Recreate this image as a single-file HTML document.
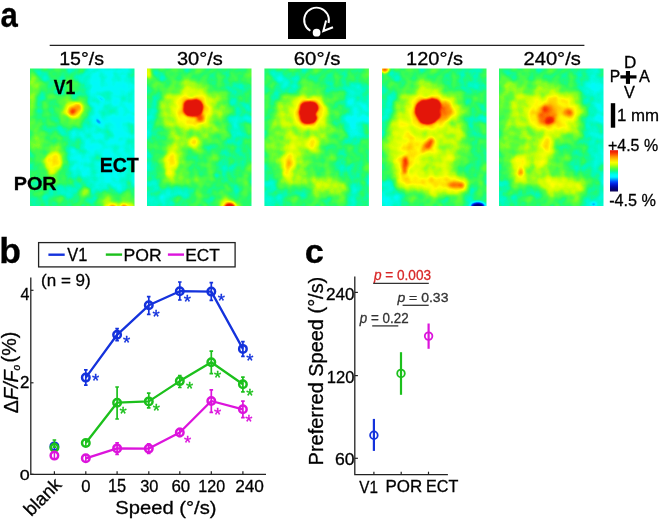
<!DOCTYPE html>
<html><head><meta charset="utf-8"><style>
html,body{margin:0;padding:0;background:#fff;}
svg{display:block;will-change:transform;}
text{font-family:"Liberation Sans",sans-serif;}
.bl{font-weight:bold;}
.st{font-size:15px;}
</style></head><body>
<svg width="660" height="521" viewBox="0 0 660 521">
<defs>
<filter id="jet" x="-20%" y="-20%" width="140%" height="140%" color-interpolation-filters="sRGB">
  <feGaussianBlur stdDeviation="0.8" result="bl"/>
  <feComponentTransfer in="bl" result="f"><feFuncA type="table" tableValues="1 1"/></feComponentTransfer>
  <feTurbulence type="fractalNoise" baseFrequency="0.085" numOctaves="2" seed="3" result="nz"/>
  <feColorMatrix in="nz" type="matrix" values="1 0 0 0 0 1 0 0 0 0 1 0 0 0 0 0 0 0 0 1" result="gn"/>
  <feComposite in="f" in2="gn" operator="arithmetic" k1="0" k2="1" k3="0.16" k4="-0.08" result="v"/>
  <feComponentTransfer in="v">
    <feFuncR type="table" tableValues="0.078 0.069 0.060 0.051 0.042 0.033 0.024 0.015 0.006 0.000 0.000 0.000 0.000 0.000 0.000 0.000 0.000 0.000 0.000 0.000 0.000 0.000 0.000 0.000 0.000 0.000 0.000 0.000 0.000 0.000 0.000 0.000 0.000 0.000 0.000 0.000 0.000 0.000 0.000 0.000 0.000 0.000 0.000 0.000 0.000 0.000 0.000 0.000 0.000 0.000 0.000 0.000 0.000 0.000 0.000 0.000 0.031 0.063 0.094 0.125 0.157 0.196 0.235 0.275 0.314 0.353 0.392 0.448 0.504 0.560 0.616 0.672 0.728 0.784 0.815 0.846 0.877 0.908 0.938 0.969 1.000 1.000 1.000 1.000 1.000 1.000 1.000 1.000 1.000 1.000 1.000 1.000 1.000 1.000 1.000 1.000 1.000 0.999 0.996 0.994 0.991 0.989 0.986 0.984 0.981 0.972 0.961 0.950 0.939 0.928 0.916 0.905 0.894 0.894 0.894 0.894 0.894 0.894 0.894 0.894 0.894 0.894 0.894 0.894 0.894 0.894 0.894 0.894 0.894"/>
    <feFuncG type="table" tableValues="0.039 0.035 0.030 0.026 0.021 0.016 0.012 0.007 0.003 0.003 0.010 0.017 0.024 0.031 0.038 0.045 0.052 0.059 0.066 0.074 0.084 0.102 0.120 0.139 0.157 0.175 0.193 0.211 0.230 0.270 0.320 0.370 0.420 0.470 0.520 0.570 0.620 0.670 0.718 0.766 0.814 0.862 0.909 0.957 0.965 0.969 0.974 0.978 0.983 0.988 0.987 0.986 0.984 0.983 0.982 0.980 0.982 0.984 0.985 0.987 0.988 0.990 0.992 0.994 0.996 0.998 1.000 1.000 1.000 1.000 1.000 1.000 1.000 1.000 1.000 1.000 1.000 1.000 1.000 1.000 1.000 0.972 0.944 0.916 0.888 0.860 0.832 0.805 0.776 0.745 0.714 0.682 0.651 0.620 0.589 0.558 0.527 0.492 0.451 0.410 0.370 0.329 0.289 0.248 0.207 0.186 0.172 0.157 0.143 0.129 0.115 0.100 0.086 0.086 0.086 0.086 0.086 0.086 0.086 0.086 0.086 0.086 0.086 0.086 0.086 0.086 0.086 0.086 0.086"/>
    <feFuncB type="table" tableValues="0.353 0.369 0.385 0.401 0.417 0.433 0.449 0.464 0.480 0.501 0.529 0.558 0.586 0.614 0.643 0.671 0.699 0.728 0.756 0.784 0.811 0.834 0.856 0.879 0.902 0.925 0.947 0.970 0.993 1.000 1.000 1.000 1.000 1.000 1.000 1.000 1.000 1.000 1.000 1.000 1.000 1.000 1.000 1.000 0.994 0.988 0.981 0.975 0.969 0.961 0.925 0.889 0.853 0.817 0.781 0.745 0.675 0.604 0.533 0.463 0.392 0.359 0.327 0.294 0.261 0.229 0.196 0.168 0.140 0.112 0.084 0.056 0.028 0.000 0.000 0.000 0.000 0.000 0.000 0.000 0.000 0.000 0.000 0.000 0.000 0.000 0.000 0.000 0.000 0.000 0.000 0.000 0.000 0.000 0.000 0.000 0.000 0.000 0.000 0.000 0.000 0.000 0.000 0.000 0.000 0.004 0.009 0.014 0.019 0.024 0.029 0.034 0.039 0.039 0.039 0.039 0.039 0.039 0.039 0.039 0.039 0.039 0.039 0.039 0.039 0.039 0.039 0.039 0.039"/>
  </feComponentTransfer>
</filter>
<filter id="b5" x="-100%" y="-100%" width="300%" height="300%" color-interpolation-filters="sRGB"><feGaussianBlur stdDeviation="7"/></filter>
<filter id="b4" x="-100%" y="-100%" width="300%" height="300%" color-interpolation-filters="sRGB"><feGaussianBlur stdDeviation="4.5"/></filter>
<filter id="b3" x="-100%" y="-100%" width="300%" height="300%" color-interpolation-filters="sRGB"><feGaussianBlur stdDeviation="3"/></filter>
<filter id="b2" x="-100%" y="-100%" width="300%" height="300%" color-interpolation-filters="sRGB"><feGaussianBlur stdDeviation="1.8"/></filter>
<filter id="b1" x="-100%" y="-100%" width="300%" height="300%" color-interpolation-filters="sRGB"><feGaussianBlur stdDeviation="0.8"/></filter>
<linearGradient id="cbar" x1="0" y1="1" x2="0" y2="0">

<stop offset="0.000" stop-color="rgb(20,10,90)"/>
<stop offset="0.050" stop-color="rgb(5,2,115)"/>
<stop offset="0.100" stop-color="rgb(0,6,151)"/>
<stop offset="0.150" stop-color="rgb(0,17,196)"/>
<stop offset="0.200" stop-color="rgb(0,42,233)"/>
<stop offset="0.250" stop-color="rgb(0,91,255)"/>
<stop offset="0.300" stop-color="rgb(0,170,255)"/>
<stop offset="0.350" stop-color="rgb(0,245,255)"/>
<stop offset="0.400" stop-color="rgb(0,252,245)"/>
<stop offset="0.450" stop-color="rgb(0,250,199)"/>
<stop offset="0.500" stop-color="rgb(31,251,118)"/>
<stop offset="0.550" stop-color="rgb(80,254,66)"/>
<stop offset="0.600" stop-color="rgb(142,255,28)"/>
<stop offset="0.650" stop-color="rgb(207,255,0)"/>
<stop offset="0.700" stop-color="rgb(247,255,0)"/>
<stop offset="0.750" stop-color="rgb(255,223,0)"/>
<stop offset="0.800" stop-color="rgb(255,182,0)"/>
<stop offset="0.850" stop-color="rgb(255,138,0)"/>
<stop offset="0.900" stop-color="rgb(252,84,0)"/>
<stop offset="0.950" stop-color="rgb(243,42,2)"/>
<stop offset="1.000" stop-color="rgb(228,22,10)"/>
</linearGradient></defs>
<text transform="translate(0.57,26.96) scale(0.9060,1)" font-size="34.36" font-weight="bold" fill="#000" stroke="#000" stroke-width="0.3">a</text>
<rect x="288" y="2" width="58" height="37" fill="#000"/>
<path d="M310.4 30.8 A12.4 12.4 0 1 1 328.6 23.0" fill="none" stroke="#fff" stroke-width="1.9"/>
<path d="M326.1 20.6 L323.3 31 L333 27.2" fill="none" stroke="#fff" stroke-width="2" stroke-linejoin="miter"/>
<circle cx="316.6" cy="32.7" r="3.9" fill="#fff"/>
<line x1="49.7" y1="45.3" x2="584.4" y2="45.3" stroke="#222" stroke-width="1.3"/>
<text transform="translate(59.23,64.57) scale(1.0856,1)" font-size="18.04" fill="#000" stroke="#000" stroke-width="0.3">15°/s</text>
<text transform="translate(176.90,64.72) scale(1.1153,1)" font-size="17.97" fill="#000" stroke="#000" stroke-width="0.3">30°/s</text>
<text transform="translate(293.78,64.72) scale(1.1162,1)" font-size="18.24" fill="#000" stroke="#000" stroke-width="0.3">60°/s</text>
<text transform="translate(406.10,64.72) scale(1.0963,1)" font-size="18.24" fill="#000" stroke="#000" stroke-width="0.3">120°/s</text>
<text transform="translate(523.49,64.81) scale(1.0802,1)" font-size="18.65" fill="#000" stroke="#000" stroke-width="0.3">240°/s</text>
<clipPath id="hc0"><rect x="30.0" y="68.6" width="104.5" height="137.3"/></clipPath>
<g clip-path="url(#hc0)"><g filter="url(#jet)" transform="translate(30.0,68.6)">
<rect x="-12" y="-12" width="128.5" height="161.3" fill="rgb(117,117,117)"/>
<g filter="url(#b5)">
<polygon points="52,-5 110,-5 110,118 80,122 45,118 38,92 48,72 60,58 56,25" fill="rgb(100,100,100)"/>
</g>
<g filter="url(#b4)">
<ellipse cx="12" cy="70" rx="10" ry="9" fill="rgb(130,130,130)"/>
<ellipse cx="43" cy="42" rx="14" ry="14" fill="rgb(135,135,135)"/>
<ellipse cx="23" cy="94" rx="13" ry="16" fill="rgb(135,135,135)"/>
<ellipse cx="88" cy="133" rx="22" ry="8" fill="rgb(133,133,133)"/>
</g>
<g filter="url(#b3)">
<ellipse cx="2" cy="40" rx="4" ry="30" fill="rgb(135,135,135)"/>
<ellipse cx="2" cy="15" rx="3" ry="12" fill="rgb(140,140,140)"/>
</g>
<g filter="url(#b2)">
<ellipse cx="43.5" cy="41.5" rx="8.5" ry="8.5" fill="rgb(164,164,164)"/>
<ellipse cx="23.5" cy="94" rx="8" ry="11" fill="rgb(164,164,164)"/>
<ellipse cx="56" cy="123" rx="4" ry="4" fill="rgb(143,143,143)"/>
<ellipse cx="90" cy="137.5" rx="16" ry="3.5" fill="rgb(158,158,158)"/>
</g>
<g filter="url(#b1)">
<ellipse cx="42.5" cy="42.5" rx="4.5" ry="4.5" fill="rgb(189,189,189)"/>
<ellipse cx="47.5" cy="38.5" rx="3" ry="3" fill="rgb(181,181,181)"/>
<ellipse cx="42" cy="43" rx="2.2" ry="2.2" fill="rgb(212,212,212)"/>
<ellipse cx="23.5" cy="95" rx="3" ry="4" fill="rgb(167,167,167)"/>
<ellipse cx="83" cy="138.3" rx="3" ry="2" fill="rgb(217,217,217)"/>
<ellipse cx="94" cy="138.3" rx="3" ry="2" fill="rgb(217,217,217)"/>
</g>
<g>
<ellipse cx="71" cy="30" rx="3.5" ry="1.3" fill="rgb(64,64,64)" transform="rotate(35 71 30)"/>
<ellipse cx="68" cy="52.5" rx="3.2" ry="1.2" fill="rgb(69,69,69)" transform="rotate(50 68 52.5)"/>
</g>
</g></g>
<clipPath id="hc1"><rect x="147.0" y="68.6" width="104.5" height="137.3"/></clipPath>
<g clip-path="url(#hc1)"><g filter="url(#jet)" transform="translate(147.0,68.6)">
<rect x="-12" y="-12" width="128.5" height="161.3" fill="rgb(120,120,120)"/>
<g filter="url(#b5)">
<ellipse cx="3" cy="75" rx="6" ry="65" fill="rgb(102,102,102)"/>
<ellipse cx="15" cy="128" rx="20" ry="14" fill="rgb(107,107,107)"/>
<ellipse cx="92" cy="60" rx="12" ry="45" fill="rgb(112,112,112)"/>
<ellipse cx="44" cy="44" rx="32" ry="30" fill="rgb(143,143,143)"/>
<ellipse cx="25" cy="95" rx="13" ry="22" fill="rgb(143,143,143)"/>
</g>
<g filter="url(#b4)">
<ellipse cx="46" cy="73" rx="8" ry="8" fill="rgb(145,145,145)"/>
</g>
<g filter="url(#b3)">
<ellipse cx="46" cy="41" rx="18" ry="17" fill="rgb(166,166,166)"/>
<ellipse cx="83" cy="139" rx="9.5" ry="7.5" fill="rgb(168,168,168)"/>
</g>
<g filter="url(#b2)">
<ellipse cx="46" cy="73" rx="4" ry="4" fill="rgb(164,164,164)"/>
<ellipse cx="24" cy="95" rx="6" ry="13" fill="rgb(164,164,164)"/>
<ellipse cx="1" cy="4" rx="3" ry="6" fill="rgb(158,158,158)"/>
</g>
<g filter="url(#b1)">
<polygon points="37,34 41,31 49,30.5 54,33 56,38 55,44 52,47.5 45,48 39,47 36,42" fill="rgb(242,242,242)"/>
<ellipse cx="53.5" cy="50" rx="4" ry="4" fill="rgb(204,204,204)"/>
<ellipse cx="83" cy="139" rx="5.5" ry="4.5" fill="rgb(242,242,242)"/>
<ellipse cx="70" cy="107" rx="2" ry="2" fill="rgb(102,102,102)"/>
</g>
</g></g>
<clipPath id="hc2"><rect x="264.4" y="68.6" width="104.5" height="137.3"/></clipPath>
<g clip-path="url(#hc2)"><g filter="url(#jet)" transform="translate(264.4,68.6)">
<rect x="-12" y="-12" width="128.5" height="161.3" fill="rgb(119,119,119)"/>
<g filter="url(#b5)">
<ellipse cx="20" cy="17" rx="18" ry="9" fill="rgb(102,102,102)"/>
<ellipse cx="92" cy="45" rx="14" ry="28" fill="rgb(102,102,102)"/>
<ellipse cx="6" cy="118" rx="10" ry="22" fill="rgb(105,105,105)"/>
<ellipse cx="95" cy="115" rx="10" ry="15" fill="rgb(107,107,107)"/>
<ellipse cx="38" cy="55" rx="30" ry="32" fill="rgb(143,143,143)"/>
<ellipse cx="27" cy="92" rx="18" ry="28" fill="rgb(143,143,143)"/>
<ellipse cx="65" cy="118" rx="22" ry="9" fill="rgb(135,135,135)"/>
</g>
<g filter="url(#b3)">
<ellipse cx="45" cy="44" rx="16" ry="16" fill="rgb(167,167,167)"/>
<ellipse cx="47" cy="74" rx="5.5" ry="8" fill="rgb(162,162,162)" transform="rotate(20 47 74)"/>
<ellipse cx="65" cy="118" rx="17" ry="5.5" fill="rgb(148,148,148)"/>
</g>
<g filter="url(#b2)">
<ellipse cx="24.3" cy="96" rx="6.5" ry="13" fill="rgb(164,164,164)"/>
</g>
<g filter="url(#b1)">
<ellipse cx="24.3" cy="97" rx="2.5" ry="6" fill="rgb(184,184,184)"/>
<polygon points="36,36 40,33 47,32.5 52,35 54,40 51,45 53,50 50,54 43,55.5 37,54 35,48 35,42" fill="rgb(242,242,242)"/>
</g>
</g></g>
<clipPath id="hc3"><rect x="382.0" y="68.6" width="104.5" height="137.3"/></clipPath>
<g clip-path="url(#hc3)"><g filter="url(#jet)" transform="translate(382.0,68.6)">
<rect x="-12" y="-12" width="128.5" height="161.3" fill="rgb(120,120,120)"/>
<g filter="url(#b5)">
<ellipse cx="4" cy="40" rx="7" ry="35" fill="rgb(102,102,102)"/>
<ellipse cx="6" cy="128" rx="12" ry="16" fill="rgb(99,99,99)"/>
<ellipse cx="95" cy="8" rx="15" ry="12" fill="rgb(110,110,110)"/>
<ellipse cx="97" cy="80" rx="10" ry="40" fill="rgb(115,115,115)"/>
<ellipse cx="45" cy="70" rx="38" ry="55" fill="rgb(144,144,144)"/>
</g>
<g filter="url(#b4)">
<ellipse cx="25" cy="88" rx="13" ry="35" fill="rgb(162,162,162)"/>
<ellipse cx="20" cy="62" rx="10" ry="12" fill="rgb(158,158,158)"/>
<ellipse cx="58" cy="116" rx="28" ry="8" fill="rgb(161,161,161)"/>
</g>
<g filter="url(#b3)">
<ellipse cx="47" cy="44" rx="20" ry="19" fill="rgb(168,168,168)"/>
<ellipse cx="64" cy="41" rx="10" ry="10" fill="rgb(168,168,168)"/>
<ellipse cx="44" cy="77" rx="9" ry="14" fill="rgb(164,164,164)" transform="rotate(40 44 77)"/>
<ellipse cx="24" cy="96" rx="7" ry="14" fill="rgb(166,166,166)"/>
<ellipse cx="72" cy="116" rx="14" ry="7" fill="rgb(166,166,166)"/>
</g>
<g filter="url(#b2)">
<ellipse cx="60" cy="43" rx="10" ry="10" fill="rgb(189,189,189)"/>
</g>
<g filter="url(#b1)">
<polygon points="35,35 41,31 51,30 57,32 59,38 58,48 53,54 45,56 38,54 34,47 33,40" fill="rgb(242,242,242)"/>
<ellipse cx="63" cy="42" rx="6" ry="8" fill="rgb(194,194,194)"/>
<ellipse cx="45.5" cy="77" rx="3.5" ry="9" fill="rgb(196,196,196)" transform="rotate(40 45.5 77)"/>
<ellipse cx="23" cy="96.4" rx="3.5" ry="9" fill="rgb(207,207,207)"/>
<ellipse cx="74" cy="116.4" rx="9" ry="3.5" fill="rgb(196,196,196)"/>
<ellipse cx="96" cy="137.5" rx="7" ry="3.5" fill="rgb(10,10,10)"/>
<ellipse cx="3" cy="1" rx="4" ry="3" fill="rgb(204,204,204)"/>
</g>
</g></g>
<clipPath id="hc4"><rect x="499.0" y="68.6" width="104.5" height="137.3"/></clipPath>
<g clip-path="url(#hc4)"><g filter="url(#jet)" transform="translate(499.0,68.6)">
<rect x="-12" y="-12" width="128.5" height="161.3" fill="rgb(119,119,119)"/>
<g filter="url(#b5)">
<ellipse cx="3" cy="118" rx="6" ry="18" fill="rgb(102,102,102)"/>
<ellipse cx="18" cy="45" rx="16" ry="35" fill="rgb(138,138,138)"/>
<ellipse cx="98" cy="18" rx="12" ry="22" fill="rgb(99,99,99)"/>
<ellipse cx="101" cy="80" rx="8" ry="70" fill="rgb(98,98,98)"/>
<ellipse cx="52" cy="45" rx="32" ry="28" fill="rgb(144,144,144)"/>
<ellipse cx="44" cy="90" rx="10" ry="30" fill="rgb(140,140,140)"/>
<ellipse cx="22" cy="100" rx="15" ry="20" fill="rgb(140,140,140)"/>
<ellipse cx="68" cy="118" rx="28" ry="10" fill="rgb(140,140,140)"/>
</g>
<g filter="url(#b3)">
<ellipse cx="53" cy="45" rx="24" ry="18" fill="rgb(167,167,167)"/>
<ellipse cx="45" cy="82" rx="6" ry="20" fill="rgb(163,163,163)" transform="rotate(15 45 82)"/>
<ellipse cx="47" cy="70" rx="5" ry="8" fill="rgb(166,166,166)" transform="rotate(20 47 70)"/>
<ellipse cx="21" cy="98" rx="7" ry="13" fill="rgb(164,164,164)"/>
<ellipse cx="64" cy="117" rx="24" ry="5.5" fill="rgb(154,154,154)"/>
</g>
<g filter="url(#b2)">
<ellipse cx="48" cy="47" rx="11" ry="10" fill="rgb(184,184,184)"/>
</g>
<g filter="url(#b1)">
<ellipse cx="48" cy="49" rx="8" ry="6.5" fill="rgb(195,195,195)"/>
<ellipse cx="51" cy="52" rx="5" ry="3.5" fill="rgb(219,219,219)"/>
<ellipse cx="46" cy="40" rx="3" ry="3" fill="rgb(201,201,201)"/>
<ellipse cx="41.5" cy="48" rx="3" ry="3" fill="rgb(201,201,201)"/>
<ellipse cx="68.7" cy="44" rx="4.5" ry="4.5" fill="rgb(196,196,196)"/>
<ellipse cx="22" cy="103" rx="2.5" ry="3.5" fill="rgb(191,191,191)"/>
<ellipse cx="94.5" cy="135.6" rx="2" ry="1.5" fill="rgb(38,38,38)"/>
</g>
</g></g>
<text transform="translate(53.72,94.40) scale(0.8595,1)" font-size="20.43" font-weight="bold" fill="#000" stroke="#000" stroke-width="0.3">V1</text>
<text transform="translate(13.77,189.61) scale(1.0482,1)" font-size="18.87" font-weight="bold" fill="#000" stroke="#000" stroke-width="0.3">POR</text>
<text transform="translate(99.63,171.71) scale(1.0149,1)" font-size="19.30" font-weight="bold" fill="#000" stroke="#000" stroke-width="0.3">ECT</text>
<text transform="translate(623.93,68.40) scale(1.0546,1)" font-size="16.23" fill="#000" stroke="#000" stroke-width="0.3">D</text>
<text transform="translate(624.04,97.70) scale(0.9700,1)" font-size="16.81" fill="#000" stroke="#000" stroke-width="0.3">V</text>
<text transform="translate(609.65,81.90) scale(0.9396,1)" font-size="16.67" fill="#000" stroke="#000" stroke-width="0.3">P</text>
<text transform="translate(639.10,81.90) scale(0.9818,1)" font-size="16.67" fill="#000" stroke="#000" stroke-width="0.3">A</text>
<rect x="620.4" y="75.3" width="16.1" height="3.2" fill="#000"/>
<rect x="625.9" y="71" width="4.1" height="12.9" fill="#000"/>
<rect x="610.8" y="103.2" width="4.4" height="24.5" fill="#000"/>
<text transform="translate(616.95,120.80) scale(1.0023,1)" font-size="16.81" fill="#000" stroke="#000" stroke-width="0.3">1 mm</text>
<text transform="translate(607.95,150.83) scale(0.9571,1)" font-size="16.71" fill="#000" stroke="#000" stroke-width="0.3">+4.5 %</text>
<text transform="translate(609.15,206.08) scale(0.9506,1)" font-size="17.07" fill="#000" stroke="#000" stroke-width="0.3">-4.5 %</text>
<rect x="610" y="150.2" width="8" height="41.3" fill="url(#cbar)"/>
<text transform="translate(-0.79,263.20) scale(1.0395,1)" font-size="34.25" font-weight="bold" fill="#000" stroke="#000" stroke-width="0.3">b</text>
<rect x="38.6" y="242.6" width="196.5" height="24.3" fill="none" stroke="#222" stroke-width="1.3"/>
<line x1="48.4" y1="254.7" x2="64.7" y2="254.7" stroke="#1432dc" stroke-width="2.4"/>
<line x1="105.8" y1="254.6" x2="122.1" y2="254.6" stroke="#1cc01c" stroke-width="2.4"/>
<line x1="167.9" y1="254.6" x2="184" y2="254.6" stroke="#dc14dc" stroke-width="2.4"/>
<text transform="translate(67.34,261.00) scale(0.8899,1)" font-size="18.41" fill="#000" stroke="#000" stroke-width="0.3">V1</text>
<text transform="translate(123.49,260.83) scale(1.0263,1)" font-size="17.18" fill="#000" stroke="#000" stroke-width="0.3">POR</text>
<text transform="translate(185.32,260.83) scale(1.0047,1)" font-size="17.18" fill="#000" stroke="#000" stroke-width="0.3">ECT</text>
<text transform="translate(41.08,286.06) scale(1.0398,1)" font-size="16.38" fill="#000" stroke="#000" stroke-width="0.3">(n = 9)</text>
<path d="M30.8 277.5V474.3H266" fill="none" stroke="#222" stroke-width="1.3"/>
<line x1="30.8" y1="474.3" x2="33.5" y2="474.3" stroke="#222" stroke-width="1.2"/>
<line x1="30.8" y1="382.8" x2="33.5" y2="382.8" stroke="#222" stroke-width="1.2"/>
<line x1="30.8" y1="290.3" x2="33.5" y2="290.3" stroke="#222" stroke-width="1.2"/>
<text transform="translate(20.38,299.87) scale(0.9266,1)" font-size="17.35" fill="#000" stroke="#000" stroke-width="0.3">4</text>
<text transform="translate(19.95,388.00) scale(1.0321,1)" font-size="16.43" fill="#000" stroke="#000" stroke-width="0.3">2</text>
<text transform="translate(19.78,480.35) scale(1.1564,1)" font-size="15.49" fill="#000" stroke="#000" stroke-width="0.3">0</text>
<line x1="54.4" y1="474.3" x2="54.4" y2="471.3" stroke="#222" stroke-width="1.2"/>
<line x1="85.8" y1="474.3" x2="85.8" y2="471.3" stroke="#222" stroke-width="1.2"/>
<line x1="117.1" y1="474.3" x2="117.1" y2="471.3" stroke="#222" stroke-width="1.2"/>
<line x1="148.8" y1="474.3" x2="148.8" y2="471.3" stroke="#222" stroke-width="1.2"/>
<line x1="179.8" y1="474.3" x2="179.8" y2="471.3" stroke="#222" stroke-width="1.2"/>
<line x1="211.3" y1="474.3" x2="211.3" y2="471.3" stroke="#222" stroke-width="1.2"/>
<line x1="242.9" y1="474.3" x2="242.9" y2="471.3" stroke="#222" stroke-width="1.2"/>
<text transform="translate(81.23,492.03) scale(0.9699,1)" font-size="17.18" fill="#000" stroke="#000" stroke-width="0.3">0</text>
<text transform="translate(107.88,492.03) scale(0.9447,1)" font-size="17.43" fill="#000" stroke="#000" stroke-width="0.3">15</text>
<text transform="translate(140.14,492.03) scale(0.9549,1)" font-size="17.18" fill="#000" stroke="#000" stroke-width="0.3">30</text>
<text transform="translate(171.46,492.03) scale(0.9814,1)" font-size="17.18" fill="#000" stroke="#000" stroke-width="0.3">60</text>
<text transform="translate(198.31,492.03) scale(0.9349,1)" font-size="17.18" fill="#000" stroke="#000" stroke-width="0.3">120</text>
<text transform="translate(235.14,492.03) scale(1.0056,1)" font-size="17.18" fill="#000" stroke="#000" stroke-width="0.3">240</text>
<text transform="translate(62.6,485.8) rotate(-45)" font-size="18.5" text-anchor="end" stroke="#000" stroke-width="0.3">blank</text>
<text transform="translate(115.29,514.39) scale(1.0852,1)" font-size="18.62" fill="#000" stroke="#000" stroke-width="0.3">Speed (°/s)</text>
<text transform="translate(18.06,413.19) rotate(-90) scale(1.0130,1)" font-size="19.47" fill="#000" stroke="#000" stroke-width="0.3">Δ<tspan font-style='italic'>F/F</tspan><tspan font-style='italic' font-size='52%' dy='0.22em'>o</tspan><tspan dy='-0.22em' dx='0.12em'>(%)</tspan></text>
<polyline points="85.8,377.6 117.1,334.8 148.8,305.3 179.8,291.2 211.3,291.6 242.9,348.9" fill="none" stroke="#1432dc" stroke-width="2.3" stroke-linejoin="round"/>
<path d="M54.4 442.9V449.9" stroke="#1432dc" stroke-width="1.5" fill="none"/>
<circle cx="54.4" cy="446.4" r="3.75" fill="none" stroke="#1432dc" stroke-width="2.5"/>
<path d="M85.8 369.3V385.7M84.0 369.8h3.6M84.0 385.2h3.6" stroke="#1432dc" stroke-width="1.7" fill="none"/>
<circle cx="85.8" cy="377.6" r="3.75" fill="none" stroke="#1432dc" stroke-width="2.5"/>
<path d="M117.1 328.2V341.2M115.3 328.7h3.6M115.3 340.7h3.6" stroke="#1432dc" stroke-width="1.7" fill="none"/>
<circle cx="117.1" cy="334.8" r="3.75" fill="none" stroke="#1432dc" stroke-width="2.5"/>
<path d="M148.8 296.1V314.8M146.9 296.6h3.6M146.9 314.3h3.6" stroke="#1432dc" stroke-width="1.7" fill="none"/>
<circle cx="148.8" cy="305.3" r="3.75" fill="none" stroke="#1432dc" stroke-width="2.5"/>
<path d="M179.8 281.5V300.5M178.0 282.0h3.6M178.0 300.0h3.6" stroke="#1432dc" stroke-width="1.7" fill="none"/>
<circle cx="179.8" cy="291.2" r="3.75" fill="none" stroke="#1432dc" stroke-width="2.5"/>
<path d="M211.3 282.1V300.9M209.5 282.6h3.6M209.5 300.4h3.6" stroke="#1432dc" stroke-width="1.7" fill="none"/>
<circle cx="211.3" cy="291.6" r="3.75" fill="none" stroke="#1432dc" stroke-width="2.5"/>
<path d="M242.9 341.2V356.8M241.1 341.7h3.6M241.1 356.3h3.6" stroke="#1432dc" stroke-width="1.7" fill="none"/>
<circle cx="242.9" cy="348.9" r="3.75" fill="none" stroke="#1432dc" stroke-width="2.5"/>
<text x="91.89" y="386.78" font-size="18.5" fill="#1432dc" stroke="#1432dc" stroke-width="0.35">*</text>
<text x="123.09" y="349.08" font-size="18.5" fill="#1432dc" stroke="#1432dc" stroke-width="0.35">*</text>
<text x="152.49" y="322.68" font-size="18.5" fill="#1432dc" stroke="#1432dc" stroke-width="0.35">*</text>
<text x="183.69" y="307.98" font-size="18.5" fill="#1432dc" stroke="#1432dc" stroke-width="0.35">*</text>
<text x="217.79" y="306.78" font-size="18.5" fill="#1432dc" stroke="#1432dc" stroke-width="0.35">*</text>
<text x="246.29" y="366.88" font-size="18.5" fill="#1432dc" stroke="#1432dc" stroke-width="0.35">*</text>
<polyline points="85.8,443.0 117.1,402.7 148.8,401.4 179.8,381.1 211.3,362.3 242.9,384.2" fill="none" stroke="#1cc01c" stroke-width="2.3" stroke-linejoin="round"/>
<path d="M54.4 439.5V447.7M52.6 440.0h3.6M52.6 447.2h3.6" stroke="#1cc01c" stroke-width="1.7" fill="none"/>
<circle cx="54.4" cy="447.7" r="3.75" fill="none" stroke="#1cc01c" stroke-width="2.5"/>
<path d="M85.8 439.5V446.5" stroke="#1cc01c" stroke-width="1.5" fill="none"/>
<circle cx="85.8" cy="443.0" r="3.75" fill="none" stroke="#1cc01c" stroke-width="2.5"/>
<path d="M117.1 386.5V419.5M115.3 387.0h3.6M115.3 419.0h3.6" stroke="#1cc01c" stroke-width="1.7" fill="none"/>
<circle cx="117.1" cy="402.7" r="3.75" fill="none" stroke="#1cc01c" stroke-width="2.5"/>
<path d="M148.8 392.7V408.4M146.9 393.2h3.6M146.9 407.9h3.6" stroke="#1cc01c" stroke-width="1.7" fill="none"/>
<circle cx="148.8" cy="401.4" r="3.75" fill="none" stroke="#1cc01c" stroke-width="2.5"/>
<path d="M179.8 375.2V388.0M178.0 375.7h3.6M178.0 387.5h3.6" stroke="#1cc01c" stroke-width="1.7" fill="none"/>
<circle cx="179.8" cy="381.1" r="3.75" fill="none" stroke="#1cc01c" stroke-width="2.5"/>
<path d="M211.3 350.6V374.2M209.5 351.1h3.6M209.5 373.7h3.6" stroke="#1cc01c" stroke-width="1.7" fill="none"/>
<circle cx="211.3" cy="362.3" r="3.75" fill="none" stroke="#1cc01c" stroke-width="2.5"/>
<path d="M242.9 376.7V392.3M241.1 377.2h3.6M241.1 391.8h3.6" stroke="#1cc01c" stroke-width="1.7" fill="none"/>
<circle cx="242.9" cy="384.2" r="3.75" fill="none" stroke="#1cc01c" stroke-width="2.5"/>
<text x="119.59" y="420.38" font-size="18.5" fill="#1cc01c" stroke="#1cc01c" stroke-width="0.35">*</text>
<text x="152.79" y="417.48" font-size="18.5" fill="#1cc01c" stroke="#1cc01c" stroke-width="0.35">*</text>
<text x="186.09" y="394.68" font-size="18.5" fill="#1cc01c" stroke="#1cc01c" stroke-width="0.35">*</text>
<text x="214.09" y="383.68" font-size="18.5" fill="#1cc01c" stroke="#1cc01c" stroke-width="0.35">*</text>
<text x="246.29" y="402.38" font-size="18.5" fill="#1cc01c" stroke="#1cc01c" stroke-width="0.35">*</text>
<polyline points="85.8,458.3 117.1,448.4 148.8,448.6 179.8,432.5 211.3,401.0 242.9,409.3" fill="none" stroke="#dc14dc" stroke-width="2.3" stroke-linejoin="round"/>
<path d="M54.4 452.1V459.1" stroke="#dc14dc" stroke-width="1.5" fill="none"/>
<circle cx="54.4" cy="455.6" r="3.75" fill="none" stroke="#dc14dc" stroke-width="2.5"/>
<path d="M85.8 454.8V461.8" stroke="#dc14dc" stroke-width="1.5" fill="none"/>
<circle cx="85.8" cy="458.3" r="3.75" fill="none" stroke="#dc14dc" stroke-width="2.5"/>
<path d="M117.1 442.4V454.8M115.3 442.9h3.6M115.3 454.3h3.6" stroke="#dc14dc" stroke-width="1.7" fill="none"/>
<circle cx="117.1" cy="448.4" r="3.75" fill="none" stroke="#dc14dc" stroke-width="2.5"/>
<path d="M148.8 443.4V453.8M146.9 443.9h3.6M146.9 453.3h3.6" stroke="#dc14dc" stroke-width="1.7" fill="none"/>
<circle cx="148.8" cy="448.6" r="3.75" fill="none" stroke="#dc14dc" stroke-width="2.5"/>
<path d="M179.8 428.0V437.0M178.0 428.5h3.6M178.0 436.5h3.6" stroke="#dc14dc" stroke-width="1.7" fill="none"/>
<circle cx="179.8" cy="432.5" r="3.75" fill="none" stroke="#dc14dc" stroke-width="2.5"/>
<path d="M211.3 389.3V412.8M209.5 389.8h3.6M209.5 412.3h3.6" stroke="#dc14dc" stroke-width="1.7" fill="none"/>
<circle cx="211.3" cy="401.0" r="3.75" fill="none" stroke="#dc14dc" stroke-width="2.5"/>
<path d="M242.9 400.7V418.2M241.1 401.2h3.6M241.1 417.7h3.6" stroke="#dc14dc" stroke-width="1.7" fill="none"/>
<circle cx="242.9" cy="409.3" r="3.75" fill="none" stroke="#dc14dc" stroke-width="2.5"/>
<text x="184.09" y="448.78" font-size="18.5" fill="#dc14dc" stroke="#dc14dc" stroke-width="0.35">*</text>
<text x="214.09" y="420.58" font-size="18.5" fill="#dc14dc" stroke="#dc14dc" stroke-width="0.35">*</text>
<text x="245.29" y="427.98" font-size="18.5" fill="#dc14dc" stroke="#dc14dc" stroke-width="0.35">*</text>
<text transform="translate(304.72,262.67) scale(1.0309,1)" font-size="33.45" font-weight="bold" fill="#000" stroke="#000" stroke-width="0.3">c</text>
<path d="M354.8 276.5V474.7H447.9" fill="none" stroke="#222" stroke-width="1.3"/>
<line x1="354.8" y1="458.3" x2="357.9" y2="458.3" stroke="#222" stroke-width="1.2"/>
<line x1="354.8" y1="375.6" x2="357.9" y2="375.6" stroke="#222" stroke-width="1.2"/>
<line x1="354.8" y1="292.4" x2="357.9" y2="292.4" stroke="#222" stroke-width="1.2"/>
<text transform="translate(325.94,299.84) scale(1.0408,1)" font-size="16.48" fill="#000" stroke="#000" stroke-width="0.3">240</text>
<text transform="translate(326.87,383.34) scale(1.0237,1)" font-size="16.20" fill="#000" stroke="#000" stroke-width="0.3">120</text>
<text transform="translate(335.02,464.93) scale(1.0529,1)" font-size="16.76" fill="#000" stroke="#000" stroke-width="0.3">60</text>
<line x1="373.9" y1="474.7" x2="373.9" y2="471.7" stroke="#222" stroke-width="1.2"/>
<line x1="401.2" y1="474.7" x2="401.2" y2="471.7" stroke="#222" stroke-width="1.2"/>
<line x1="428.5" y1="474.7" x2="428.5" y2="471.7" stroke="#222" stroke-width="1.2"/>
<text transform="translate(359.25,492.60) scale(0.9235,1)" font-size="16.52" fill="#000" stroke="#000" stroke-width="0.3">V1</text>
<text transform="translate(385.44,492.44) scale(1.0554,1)" font-size="16.06" fill="#000" stroke="#000" stroke-width="0.3">POR</text>
<text transform="translate(426.01,492.44) scale(1.0063,1)" font-size="16.06" fill="#000" stroke="#000" stroke-width="0.3">ECT</text>
<text transform="translate(322.83,465.40) rotate(-90) scale(0.9822,1)" font-size="20.32" fill="#000" stroke="#000" stroke-width="0.3">Preferred Speed (°/s)</text>
<line x1="373.9" y1="418.9" x2="373.9" y2="450.9" stroke="#1432dc" stroke-width="2.2"/>
<circle cx="373.9" cy="435.2" r="3.8" fill="none" stroke="#1432dc" stroke-width="1.8"/>
<line x1="401.0" y1="352.2" x2="401.0" y2="394.8" stroke="#1cc01c" stroke-width="2.2"/>
<circle cx="401.0" cy="373.4" r="3.8" fill="none" stroke="#1cc01c" stroke-width="1.8"/>
<line x1="428.6" y1="323.5" x2="428.6" y2="348.8" stroke="#dc14dc" stroke-width="2.2"/>
<circle cx="428.6" cy="336.1" r="3.8" fill="none" stroke="#dc14dc" stroke-width="1.8"/>
<text transform="translate(373.97,280.37) scale(0.9743,1)" font-size="13.96" fill="#d82828" stroke="#d82828" stroke-width="0.3"><tspan font-style='italic'>p</tspan> = 0.003</text>
<line x1="373.2" y1="283.3" x2="428.8" y2="283.3" stroke="#333" stroke-width="1.3"/>
<text transform="translate(397.38,302.31) scale(1.0554,1)" font-size="13.30" fill="#333" stroke="#333" stroke-width="0.3"><tspan font-style='italic'>p</tspan> = 0.33</text>
<line x1="402.6" y1="305.3" x2="428.7" y2="305.3" stroke="#333" stroke-width="1.3"/>
<text transform="translate(359.87,322.62) scale(0.9740,1)" font-size="13.74" fill="#333" stroke="#333" stroke-width="0.3"><tspan font-style='italic'>p</tspan> = 0.22</text>
<line x1="372.2" y1="325.9" x2="398.3" y2="325.9" stroke="#333" stroke-width="1.3"/>
</svg></body></html>
